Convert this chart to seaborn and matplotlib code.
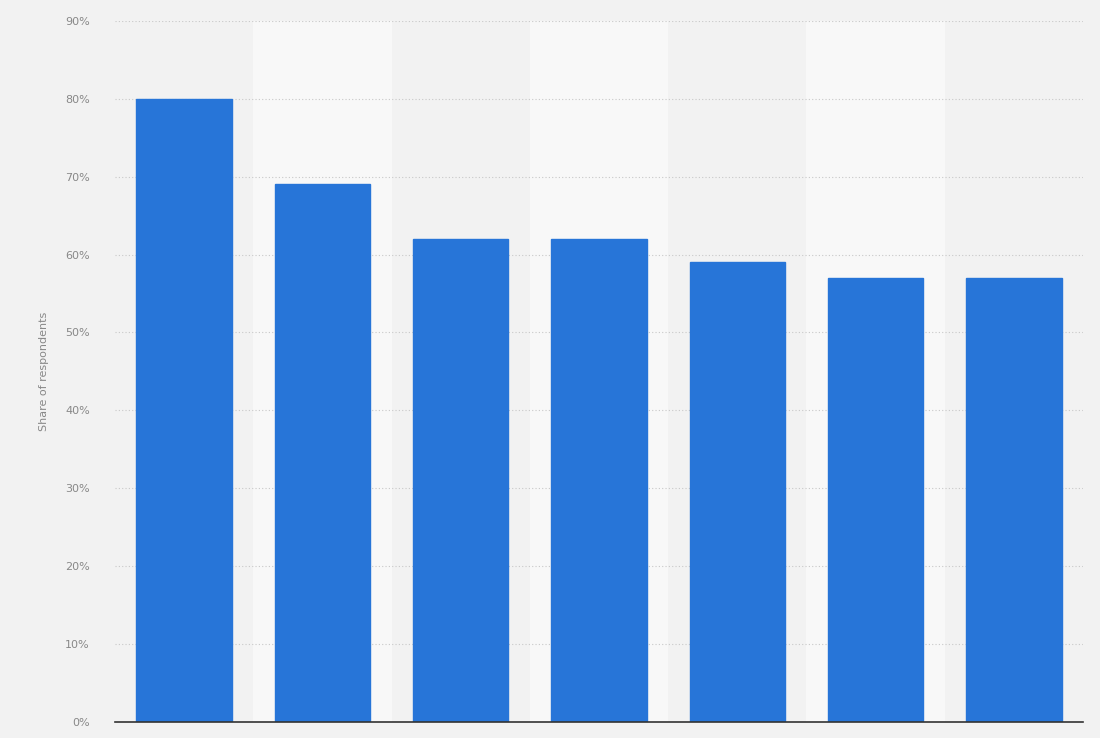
import matplotlib
matplotlib.use("Agg")
import matplotlib.pyplot as plt
import seaborn as sns
import pandas as pd
from matplotlib.ticker import FuncFormatter, MultipleLocator

categories = ["A", "B", "C", "D", "E", "F", "G"]
values = [80, 69, 62, 62, 59, 57, 57]
y_label = "Share of respondents"

sns.set_theme(style="white")
plt.rcParams['font.family'] = ['DejaVu Sans']

df = pd.DataFrame({"category": categories, "value": values})

fig = plt.figure(figsize=(11, 7.38), dpi=100, facecolor="#f2f2f2")
ax = fig.add_axes([0.1045, 0.0217, 0.88, 0.95])
ax.set_facecolor("#f2f2f2")

for i in range(len(categories)):
    if i % 2 == 1:
        ax.axvspan(i - 0.5, i + 0.5, color="#f8f8f8", zorder=0, lw=0)

sns.barplot(data=df, x="category", y="value", color="#2775d8", saturation=1,
            width=0.69, ax=ax, zorder=3, edgecolor="#2775d8")

ax.set_xlim(-0.5, len(categories) - 0.5)
ax.set_ylim(0, 90)
ax.yaxis.set_major_locator(MultipleLocator(10))
ax.yaxis.set_major_formatter(FuncFormatter(lambda v, p: f"{int(v)}%"))
ax.grid(axis="y", color="#c8c8c8", linestyle=(0, (1, 2)), linewidth=0.8, zorder=1)
ax.set_axisbelow(True)
for s in ["top", "right", "left"]:
    ax.spines[s].set_visible(False)
ax.spines["bottom"].set_color("#333333")
ax.spines["bottom"].set_linewidth(1.2)
ax.spines["bottom"].set_zorder(5)
ax.set_xticks([])
ax.set_xlabel("")
ax.tick_params(axis="y", length=0, labelsize=8, labelcolor="#888888", pad=18)
ax.set_ylabel(y_label, fontsize=8, color="#888888", labelpad=12)

fig.savefig("out.png", dpi=100, facecolor=fig.get_facecolor())
